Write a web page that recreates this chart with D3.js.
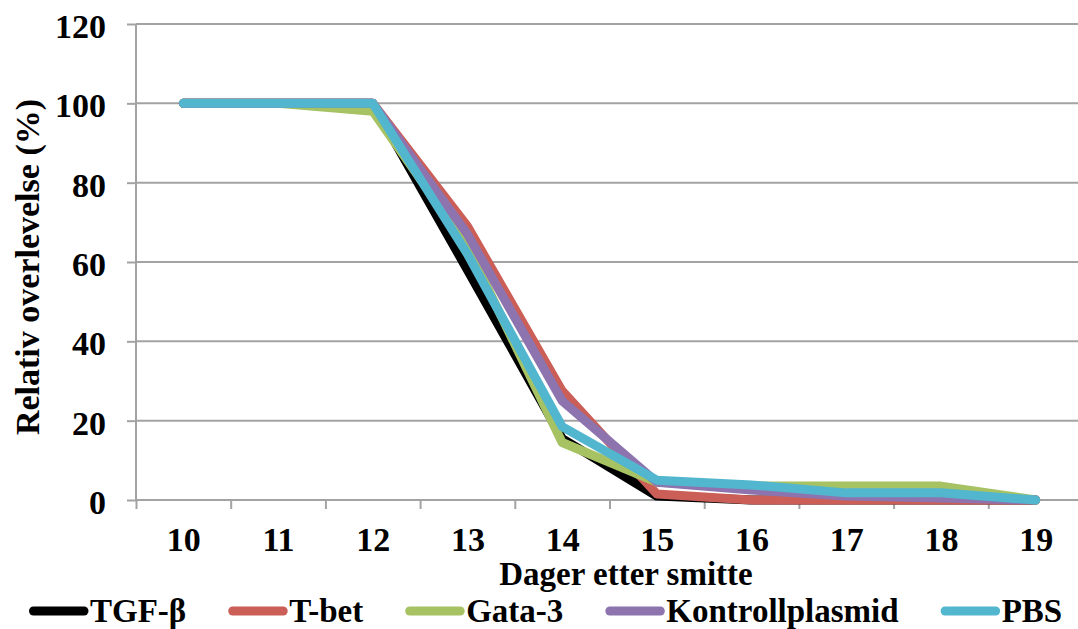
<!DOCTYPE html>
<html>
<head>
<meta charset="utf-8">
<script src="https://cdn.jsdelivr.net/npm/d3@7"></script>
<style>
  body { margin: 0; background: #fff; }
  svg { display: block; font-family: 'Liberation Serif', serif; font-weight: bold; }
  .grid line { stroke: #a3a3a3; stroke-width: 2; }
  .axis path, .axis line { stroke: #a3a3a3; stroke-width: 2; }
  .axis text { fill: #000; font-size: 34px; font-family: 'Liberation Serif', serif; font-weight: bold; }
  .line { fill: none; stroke-width: 9; stroke-linecap: round; stroke-linejoin: round; }
</style>
</head>
<body>
<div id="chart"></div>
<script>
const days = [10, 11, 12, 13, 14, 15, 16, 17, 18, 19]
const yTicks = [0, 20, 40, 60, 80, 100, 120]

const seriesNames = ['TGF-β', 'T-bet', 'Gata-3', 'Kontrollplasmid', 'PBS']
const seriesColors = ['#000000', '#cb5f57', '#a6c263', '#8d74af', '#52b6cf']

const tgfb = [100, 100, 100, 58, 15.5, 1, 0, 0, 0, 0]
const tbet = [100, 100, 100, 69, 27.5, 1.5, 0, 0, 0, 0]
const gata3 = [100, 100, 98, 64, 14.5, 4.5, 3.5, 3.5, 3.5, 0]
const kontroll = [100, 100, 100, 67, 25, 4.5, 2.5, 1, 0.5, 0]
const pbs = [100, 100, 100, 62, 18.5, 5, 3.8, 1.8, 1.8, 0]

const seriesValues = [tgfb, tbet, gata3, kontroll, pbs]

const width = 1078
const height = 629
const plot = { left: 136, right: 1083, top: 24, bottom: 500 }

const x = d3.scaleLinear()
  .domain([days[0] - 0.5, days[days.length - 1] + 0.5])
  .range([plot.left, plot.right])

const y = d3.scaleLinear()
  .domain([0, 120])
  .range([plot.bottom, plot.top])

const svg = d3.select('#chart')
  .append('svg')
  .attr('width', width)
  .attr('height', height)
  .attr('viewBox', [0, 0, width, height])

// horizontal gridlines
svg.append('g')
  .attr('class', 'grid')
  .selectAll('line')
  .data(yTicks)
  .join('line')
  .attr('x1', plot.left)
  .attr('x2', plot.right)
  .attr('y1', d => y(d))
  .attr('y2', d => y(d))

const yAxis = d3.axisLeft(y)
  .tickValues(yTicks)
  .tickSize(9)
  .tickPadding(21)

svg.append('g')
  .attr('class', 'axis axis--y')
  .attr('transform', `translate(${plot.left}, 0)`)
  .call(yAxis)
  .call(g => g.select('.domain').attr('d', `M0,${plot.top}V${plot.bottom}`))
  .call(g => g.selectAll('.tick text').attr('dy', '0.4em'))

// tick marks between categories, no labels
const tickmarksAxis = d3.axisBottom(x)
  .tickValues(days.map(d => d - 0.5).concat([days[days.length - 1] + 0.5]))
  .tickSize(9)
  .tickFormat('')

svg.append('g')
  .attr('class', 'axis axis--x')
  .attr('transform', `translate(0, ${plot.bottom})`)
  .call(tickmarksAxis)
  .call(g => g.select('.domain').remove())

// category labels at centers
const labelsAxis = d3.axisBottom(x)
  .tickValues(days)
  .tickSize(0)
  .tickPadding(27)
  .tickFormat(d3.format('d'))

svg.append('g')
  .attr('class', 'axis axis--x')
  .attr('transform', `translate(0, ${plot.bottom})`)
  .call(labelsAxis)
  .call(g => g.select('.domain').remove())

const line = d3.line()
  .x((d, i) => x(days[i]))
  .y(d => y(d))

svg.append('g')
  .selectAll('path')
  .data(seriesValues)
  .join('path')
  .attr('class', 'line')
  .attr('stroke', (d, i) => seriesColors[i])
  .attr('d', line)

svg.append('text')
  .attr('x', 626)
  .attr('y', 585)
  .attr('text-anchor', 'middle')
  .attr('font-size', 33)
  .text('Dager etter smitte')

svg.append('text')
  .attr('transform', 'translate(39, 267) rotate(-90)')
  .attr('text-anchor', 'middle')
  .attr('font-size', 34)
  .text('Relativ overlevelse (%)')

// legend, laid out left to right
const legend = svg.append('g').attr('class', 'legend')
let lx = 29
seriesNames.forEach((name, i) => {
  legend.append('line')
    .attr('class', 'line')
    .attr('x1', lx + 4.5)
    .attr('x2', lx + 55)
    .attr('y1', 611)
    .attr('y2', 611)
    .attr('stroke', seriesColors[i])
  const t = legend.append('text')
    .attr('x', lx + 61)
    .attr('y', 622)
    .attr('font-size', 33)
    .text(name)
  lx += 61 + t.node().getComputedTextLength() + 42
})
</script>
</body>
</html>
